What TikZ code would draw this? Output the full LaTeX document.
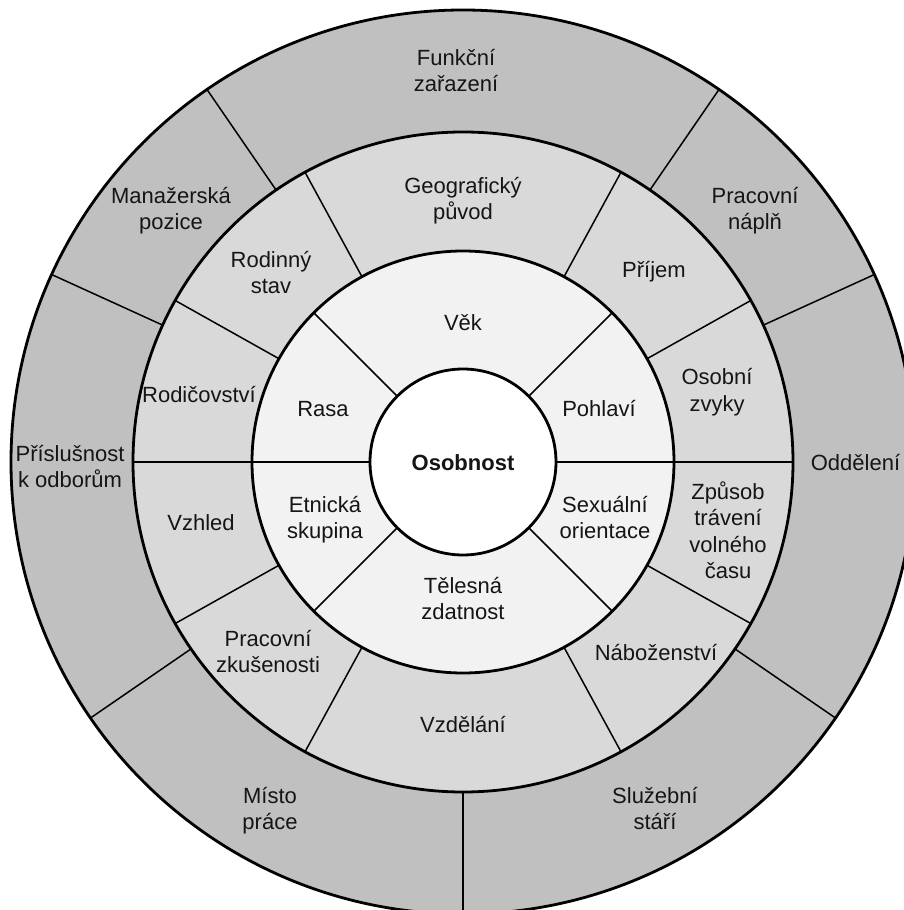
\documentclass[tikz,border=0pt]{standalone}
\usepackage{fontspec}
\setmainfont{Liberation Sans}
\definecolor{outerfill}{HTML}{C0C0C0}
\definecolor{midfill}{HTML}{D9D9D9}
\definecolor{innerfill}{HTML}{F2F2F2}
\definecolor{txt}{HTML}{151515}
\begin{document}
\begin{tikzpicture}[x=1pt,y=1pt,
  lbl/.style={align=center, inner sep=0pt, text=txt, font=\fontsize{22}{26.5}\selectfont},
  ringline/.style={line width=2.8pt},
  divider/.style={line width=1.5pt}]
\useasboundingbox (-463,-448) rectangle (441,462);
\clip (-463,-448) rectangle (441,462);
\fill[white] (-463,-448) rectangle (441,462);
\coordinate (C) at (0,0);
% ring fills
\fill[outerfill] (C) circle (452);
\fill[midfill] (C) circle (330);
\fill[innerfill] (C) circle (211);
\fill[white] (C) circle (93);
% dividers
\foreach \a in {24.5,55.5,124.5,155.5,214.5,270,325.5}
  \draw[divider] (\a:330) -- (\a:452);
\foreach \a in {0,29.3,61.4,118.6,150.7,180,209.3,241.4,298.6,330.7}
  \draw[divider] (\a:211) -- (\a:330);
\foreach \a in {0,45,135,180,225,315}
  \draw[divider] (\a:93) -- (\a:211);
% ring outlines
\draw[ringline] (C) circle (452);
\draw[ringline] (C) circle (330);
\draw[ringline] (C) circle (211);
\draw[ringline] (C) circle (93);
% outer ring labels
\node[lbl] (funkcni) at (-7,389) {\strut Funkční\\\strut zařazení};
\node[lbl] (manazer) at (-292,251) {\strut Manažerská\\\strut pozice};
\node[lbl] (naplne) at (292,251) {\strut Pracovní\\\strut náplň};
\node[lbl] (odbory) at (-393,-7) {\strut Příslušnost\\\strut k odborům};
\node[lbl] (oddeleni) at (392.5,-2.7) {\strut Oddělení};
\node[lbl] (misto) at (-193,-349) {\strut Místo\\\strut práce};
\node[lbl] (stari) at (192,-349) {\strut Služební\\\strut stáří};
% middle ring labels
\node[lbl] (geo) at (0,261) {\strut Geografický\\\strut původ};
\node[lbl] (rodinny) at (-192,187) {\strut Rodinný\\\strut stav};
\node[lbl] (prijem) at (191,189.3) {\strut Příjem};
\node[lbl] (rodic) at (-264,64.3) {\strut Rodičovství};
\node[lbl] (zvyky) at (254,69.5) {\strut Osobní\\\strut zvyky};
\node[lbl] (zpusob) at (265,-71.5) {\strut Způsob\\\strut trávení\\\strut volného\\\strut času};
\node[lbl] (vzhled) at (-262,-62.7) {\strut Vzhled};
\node[lbl] (zkus) at (-195,-192) {\strut Pracovní\\\strut zkušenosti};
\node[lbl] (vzdel) at (0,-265) {\strut Vzdělání};
\node[lbl] (nabo) at (193,-192.7) {\strut Náboženství};
% inner ring labels
\node[lbl] (vek) at (0,137) {\strut Věk};
\node[lbl] (rasa) at (-140,50.3) {\strut Rasa};
\node[lbl] (pohlavi) at (136,50.3) {\strut Pohlaví};
\node[lbl] (etnik) at (-138,-58) {\strut Etnická\\\strut skupina};
\node[lbl] (sex) at (142,-58) {\strut Sexuální\\\strut orientace};
\node[lbl] (telo) at (0,-139) {\strut Tělesná\\\strut zdatnost};
% centre
\node[lbl] (osob) at (0,-2.7) {\strut\textbf{Osobnost}};
\end{tikzpicture}
\end{document}
